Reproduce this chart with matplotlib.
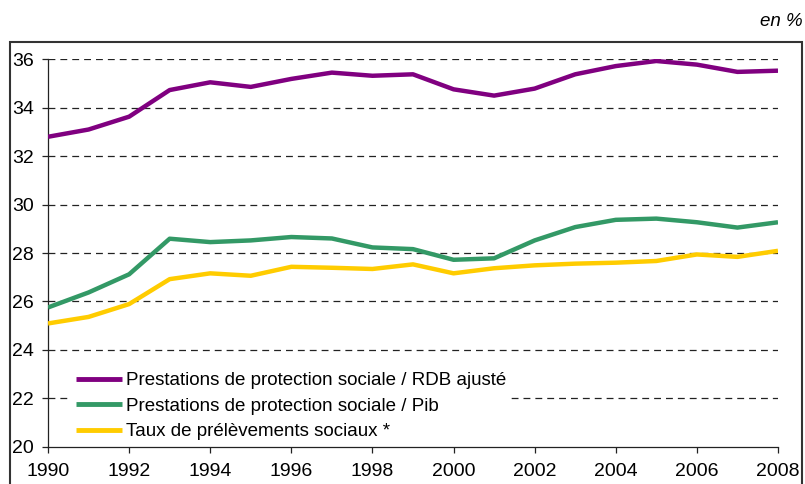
import matplotlib
matplotlib.use("Agg")
import matplotlib.pyplot as plt
from matplotlib.patches import Rectangle

plt.rcParams['font.family'] = ['Liberation Sans', 'DejaVu Sans']

years = list(range(1990, 2009))
rdb_ajuste = [32.8, 33.1, 33.63, 34.73, 35.05, 34.86, 35.19, 35.45, 35.32, 35.38,
              34.76, 34.5, 34.79, 35.38, 35.72, 35.93, 35.78, 35.48, 35.53]
pib = [25.75, 26.37, 27.12, 28.59, 28.45, 28.52, 28.66, 28.6, 28.23, 28.16,
       27.72, 27.78, 28.52, 29.07, 29.37, 29.42, 29.27, 29.05, 29.27]
prelevements = [25.09, 25.36, 25.89, 26.92, 27.16, 27.06, 27.43, 27.39, 27.34, 27.53,
                27.16, 27.37, 27.49, 27.56, 27.6, 27.67, 27.94, 27.84, 28.09]
labels = ['Prestations de protection sociale / RDB ajusté',
          'Prestations de protection sociale / Pib',
          'Taux de prélèvements sociaux *']
colors = ['#800080', '#339966', '#FFCC00']

fig = plt.figure(figsize=(8.05, 4.84), dpi=100)
ax = fig.add_axes([48/805, 1 - 446.7/484, 730/805, 387.4/484])

for vals, lab, col in zip([rdb_ajuste, pib, prelevements], labels, colors):
    ax.plot(years, vals, color=col, lw=3.2, label=lab, solid_capstyle='butt', zorder=3)

ax.set_xlim(1990, 2008)
ax.set_ylim(20, 36)
ax.set_xticks(range(1990, 2009, 2))
ax.set_yticks(range(20, 37, 2))
for y in range(22, 37, 2):
    ax.axhline(y, color='#222222', lw=0.9, ls=(0, (5.5, 4)), zorder=1)

for s in ['top', 'right']:
    ax.spines[s].set_visible(False)
for s in ['left', 'bottom']:
    ax.spines[s].set_color('#222222')
    ax.spines[s].set_linewidth(0.9)
ax.tick_params(axis='both', labelsize=14, length=4, width=0.9, color='#222222')
ax.tick_params(axis='y', pad=6)
ax.tick_params(axis='x', pad=8)

leg = ax.legend(loc='lower left', bbox_to_anchor=(0.033, 0.007), fontsize=13.5,
                handlelength=2.45, handletextpad=0.2, labelspacing=0.44,
                borderpad=0.2, borderaxespad=0, fancybox=False, framealpha=1,
                edgecolor='white')
for line in leg.get_lines():
    line.set_linewidth(3.5)
leg.set_zorder(5)

fig.patches.append(Rectangle((10/805, -0.1), 792/805, 1.1 - 42/484,
                             transform=fig.transFigure, fill=False,
                             edgecolor='#333333', lw=1.5, zorder=0))
fig.text(0.997, 1 - 26/484, 'en %', ha='right', va='baseline', fontsize=13.5,
         style='italic')

fig.savefig('out.png', dpi=100)
